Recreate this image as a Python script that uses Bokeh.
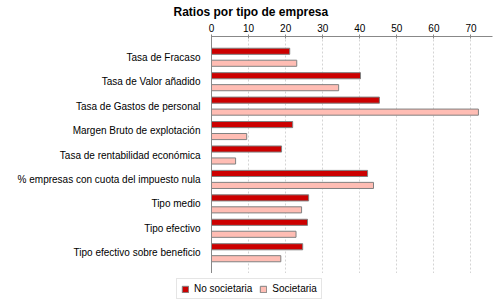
from bokeh.plotting import figure
from bokeh.models import FactorRange, Range1d, Legend, LegendItem, ColumnDataSource, FixedTicker
from bokeh.transform import dodge
from bokeh.embed import file_html
from bokeh.resources import INLINE

categories = ["Tasa de Fracaso", "Tasa de Valor añadido", "Tasa de Gastos de personal",
              "Margen Bruto de explotación", "Tasa de rentabilidad económica",
              "% empresas con cuota del impuesto nula", "Tipo medio", "Tipo efectivo",
              "Tipo efectivo sobre beneficio"]
no_societaria = [21.1, 40.2, 45.3, 21.9, 18.9, 42.1, 26.2, 25.9, 24.6]
societaria = [23.0, 34.3, 72.0, 9.5, 6.5, 43.7, 24.3, 22.8, 18.7]
x_ticks = [0, 10, 20, 30, 40, 50, 60, 70]
x_max = 75.8
series_names = ["No societaria", "Societaria"]
colors = ["#CC0000", "#FFBDB4"]

FONT = "Liberation Sans"
OUTLINE = "#808080"

source = ColumnDataSource(dict(cat=categories, nos=no_societaria, soc=societaria))

p = figure(width=500, height=273,
           y_range=FactorRange(*categories[::-1], range_padding=0.35, range_padding_units="absolute"),
           x_range=Range1d(0, x_max), x_axis_location="above",
           output_backend="svg", toolbar_location=None,
           title="Ratios por tipo de empresa",
           min_border_left=211, min_border_right=8, min_border_top=35, min_border_bottom=0)

r1 = p.hbar(y=dodge("cat", 0.245, range=p.y_range), left=0, right="nos", height=0.25,
            fill_color=colors[0], line_color=OUTLINE, line_width=1, source=source)
r2 = p.hbar(y=dodge("cat", -0.245, range=p.y_range), left=0, right="soc", height=0.25,
            fill_color=colors[1], line_color=OUTLINE, line_width=1, source=source)

p.title.align = "left"
p.title.offset = -38
p.title.standoff = 4
p.title.text_font = FONT
p.title.text_font_size = "12px"
p.title.text_font_style = "bold"
p.title.text_color = "#000000"

p.outline_line_color = None
p.ygrid.visible = False
p.xgrid.grid_line_color = "#d4d4d4"
p.xgrid.grid_line_dash = "2 2"
p.xgrid.ticker = FixedTicker(ticks=x_ticks)

p.xaxis.ticker = FixedTicker(ticks=x_ticks)
p.xaxis.axis_line_color = "#888888"
p.xaxis.major_tick_line_color = "#888888"
p.xaxis.major_tick_in = 2
p.xaxis.major_tick_out = 2
p.xaxis.minor_tick_line_color = None
p.xaxis.major_label_text_font = FONT
p.xaxis.major_label_text_font_size = "10px"
p.xaxis.major_label_text_color = "#000000"
p.xaxis.major_label_standoff = 3

p.yaxis.axis_line_color = "#888888"
p.yaxis.major_tick_line_color = None
p.yaxis.minor_tick_line_color = None
p.yaxis.major_label_text_font = FONT
p.yaxis.major_label_text_font_size = "10px"
p.yaxis.major_label_text_color = "#000000"
p.yaxis.major_label_standoff = 5

# legend strip below the chart (separate root, so its frame is not aligned to the chart's)
lf = figure(width=500, height=27, x_range=Range1d(0, 500), y_range=Range1d(0, 27),
            output_backend="svg", toolbar_location=None,
            min_border_left=0, min_border_right=0, min_border_top=0, min_border_bottom=0)
lf.axis.visible = False
lf.grid.visible = False
lf.outline_line_color = None
# placeholder renderers (outside the strip's visible range) that only supply legend swatches
proxy = ColumnDataSource(dict(y=[-100], right=[0]))
l1 = lf.hbar(y="y", right="right", left=0, height=1, fill_color=colors[0], line_color=OUTLINE, source=proxy)
l2 = lf.hbar(y="y", right="right", left=0, height=1, fill_color=colors[1], line_color=OUTLINE, source=proxy)

legend = Legend(items=[LegendItem(label=series_names[0], renderers=[l1]),
                       LegendItem(label=series_names[1], renderers=[l2])],
                orientation="horizontal", location=(176, 1),
                label_text_font=FONT, label_text_font_size="10px", label_text_color="#000000",
                glyph_width=8, glyph_height=8, label_height=11, label_standoff=5,
                spacing=7, padding=4, margin=0,
                border_line_color="#cccccc", background_fill_alpha=1)
lf.add_layout(legend)

open("out.html", "w").write(file_html([p, lf], INLINE))
